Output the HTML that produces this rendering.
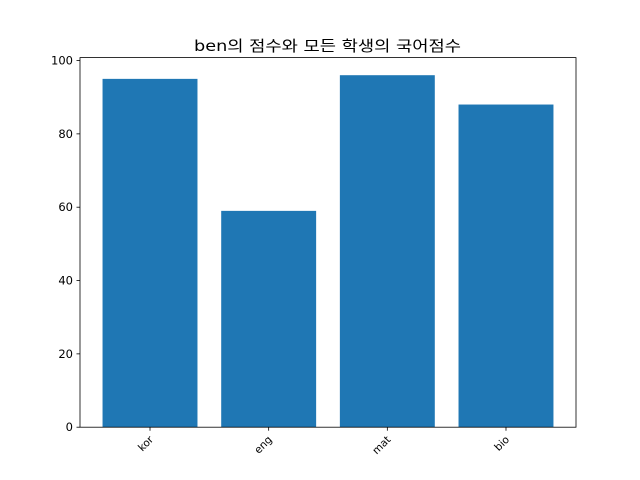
<!DOCTYPE html>
<html><head><meta charset="utf-8"><style>
html,body{margin:0;padding:0;background:#fff;}
svg{display:block;font-family:"DejaVu Sans","Liberation Sans","Noto Sans CJK KR",sans-serif;}
</style></head><body>
<svg id="chart" width="640" height="480">
<rect width="640" height="480" fill="#fff"/>
<text x="194" y="51" textLength="267" lengthAdjust="spacingAndGlyphs" font-size="15" fill="#000" font-family="'DejaVu Sans','Noto Sans CJK KR',sans-serif">ben의 점수와 모든 학생의 국어점수</text>
<g id="bars"></g>
<g id="axes"></g>
</svg>
<script>
const categories = ["kor","eng","mat","bio"];
const values = [95, 59, 96, 88];
const yTicks = [0, 20, 40, 60, 80, 100];

const NS = "http://www.w3.org/2000/svg";
const L = 80, R = 576, T = 57.6, B = 427.2;
const yMax = Math.max(...values) * 1.05;
const xMin = -0.59, xMax = categories.length - 1 + 0.59;
const xs = v => L + (v - xMin) / (xMax - xMin) * (R - L);
const ys = v => B - v / yMax * (B - T);
const bars = document.getElementById('bars');
const axes = document.getElementById('axes');
function mk(tag, attrs, parent) {
  const e = document.createElementNS(NS, tag);
  for (const k in attrs) e.setAttribute(k, attrs[k]);
  parent.appendChild(e);
  return e;
}
values.forEach((v, i) => {
  const r = mk('rect', {x: xs(i - 0.4), y: ys(v), width: xs(i + 0.4) - xs(i - 0.4), height: B - ys(v), fill: '#1f77b4'}, bars);
  
  
});
const frame = mk('rect', {x: L, y: T, width: R - L, height: B - T, fill: 'none', stroke: '#000', 'stroke-width': 0.8}, axes);


yTicks.forEach(t => {
  const y = ys(t);
  const tk = mk('line', {x1: L - 3.5, x2: L, y1: y, y2: y, stroke: '#000', 'stroke-width': 0.8}, axes);
  
  
  const lb = mk('text', {x: L - 7, y: y + 4, 'text-anchor': 'end', 'font-size': 11.5, fill: '#000'}, axes);
  lb.textContent = t;
  
  
});
categories.forEach((c, i) => {
  const x = xs(i);
  const tk = mk('line', {x1: x, x2: x, y1: B, y2: B + 3.5, stroke: '#000', 'stroke-width': 0.8}, axes);
  
  
  const lb = mk('text', {x: x + 4, y: B + 13, 'text-anchor': 'end', 'font-size': 10.5, fill: '#000', transform: 'rotate(-45 ' + (x + 4) + ' ' + (B + 13) + ')'}, axes);
  lb.textContent = c;
  
  
});
</script>
</body></html>
